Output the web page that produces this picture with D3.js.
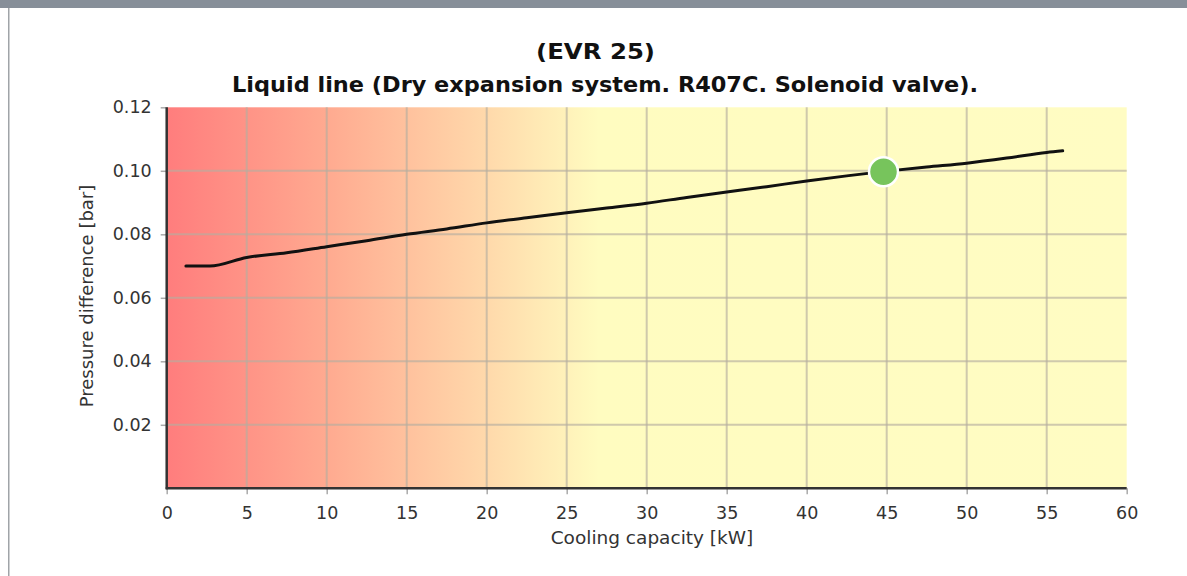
<!DOCTYPE html>
<html>
<head>
<meta charset="utf-8">
<script src="https://cdn.jsdelivr.net/npm/d3@7"></script>
<style>
  html, body { margin: 0; padding: 0; background: #fff; }
  svg { display: block; }
</style>
</head>
<body>
<svg id="chart" width="1187" height="576"></svg>
<script>
const titleLines = ["(EVR 25)", "Liquid line (Dry expansion system. R407C. Solenoid valve)."];
const xLabel = "Cooling capacity [kW]";
const yLabel = "Pressure difference [bar]";
const xTicks = [0, 5, 10, 15, 20, 25, 30, 35, 40, 45, 50, 55, 60];
const yTicks = [0.02, 0.04, 0.06, 0.08, 0.10, 0.12];
const capacity = [1.2, 2.7, 5, 7.5, 10, 12.5, 15, 17.5, 20, 22.5, 25, 27.5, 30, 32.5, 35, 37.5, 40, 42.5, 45, 47.5, 50, 52.5, 55, 56];
const pressure = [0.0700, 0.0700, 0.0727, 0.0742, 0.0761, 0.0780, 0.0800, 0.0817, 0.0836, 0.0852, 0.0868, 0.0883, 0.0898, 0.0916, 0.0933, 0.0950, 0.0968, 0.0984, 0.0999, 0.1012, 0.1024, 0.1040, 0.1058, 0.1063];
const operatingPoint = [44.8, 0.0997];

const svg = d3.select("#chart");
const W = 1187, H = 576;
const m = { left: 166.7, right: 1126.7, top: 107.3, bottom: 488.3 };

// frame
svg.append("rect").attr("x", 0).attr("y", 0).attr("width", W).attr("height", 8).attr("fill", "#878f99");
svg.append("rect").attr("x", 8).attr("y", 8).attr("width", 1.5).attr("height", H - 8).attr("fill", "#a0a4a8");

const x = d3.scaleLinear().domain([0, 60]).range([m.left, m.right]);
const y = d3.scaleLinear().domain([0, 0.12]).range([m.bottom, m.top]);

// gradient background
const defs = svg.append("defs");
const grad = defs.append("linearGradient").attr("id", "bg").attr("gradientUnits", "userSpaceOnUse")
  .attr("x1", x(0)).attr("x2", x(60)).attr("y1", 0).attr("y2", 0);
grad.append("stop").attr("offset", 0).attr("stop-color", "#ff7d7d");
grad.append("stop").attr("offset", 10 / 60).attr("stop-color", "#ffaa90");
grad.append("stop").attr("offset", 20 / 60).attr("stop-color", "#ffd9ab");
grad.append("stop").attr("offset", 27 / 60).attr("stop-color", "#fffcc0");
grad.append("stop").attr("offset", 1).attr("stop-color", "#fffcc3");
svg.append("rect").attr("x", x(0)).attr("y", y(0.12)).attr("width", x(60) - x(0)).attr("height", y(0) - y(0.12))
  .attr("fill", "url(#bg)");

// grid
const grid = svg.append("g");
grid.selectAll(".vg").data(xTicks.filter(d => d > 0 && d < 60)).enter().append("line")
  .attr("x1", d => x(d)).attr("x2", d => x(d)).attr("y1", y(0.12)).attr("y2", y(0))
  .attr("stroke", "#b5ada0").attr("stroke-opacity", 0.65).attr("stroke-width", 2);
grid.selectAll(".hg").data(yTicks.filter(d => d < 0.12)).enter().append("line")
  .attr("x1", x(0)).attr("x2", x(60)).attr("y1", d => y(d)).attr("y2", d => y(d))
  .attr("stroke", "#b5ada0").attr("stroke-opacity", 0.65).attr("stroke-width", 2);

// axes
const fontFam = "'DejaVu Sans', Verdana, sans-serif";
const xAxis = svg.append("g").attr("transform", `translate(0,${y(0)})`)
  .call(d3.axisBottom(x).tickValues(xTicks).tickSize(6).tickPadding(12).tickFormat(d3.format("d")));
const yAxis = svg.append("g").attr("transform", `translate(${x(0)},0)`)
  .call(d3.axisLeft(y).tickValues(yTicks).tickSize(6).tickPadding(9).tickFormat(d3.format(".2f")));
[xAxis, yAxis].forEach(a => {
  a.select(".domain").remove();
  a.selectAll(".tick line").attr("stroke", "#aaa").attr("stroke-width", 1.5);
  a.selectAll(".tick text").attr("fill", "#333").style("font-family", fontFam).style("font-size", "17.5px");
});
svg.append("line").attr("x1", x(0)).attr("x2", x(0)).attr("y1", y(0.12)).attr("y2", y(0) + 1)
  .attr("stroke", "#333").attr("stroke-width", 2.5);
svg.append("line").attr("x1", x(0) - 1).attr("x2", x(60)).attr("y1", y(0)).attr("y2", y(0))
  .attr("stroke", "#333").attr("stroke-width", 2.5);

// line
const pts = capacity.map((c, i) => [c, pressure[i]]);
svg.append("path").datum(pts)
  .attr("d", d3.line().x(d => x(d[0])).y(d => y(d[1])).curve(d3.curveMonotoneX))
  .attr("fill", "none").attr("stroke", "#111").attr("stroke-width", 3).attr("stroke-linecap", "round");

// operating point
svg.append("circle").attr("cx", x(operatingPoint[0])).attr("cy", y(operatingPoint[1])).attr("r", 14.5)
  .attr("fill", "#77c45c").attr("stroke", "#fff").attr("stroke-width", 2.5);

// titles
svg.append("text").attr("x", 595.5).attr("y", 59).attr("text-anchor", "middle")
  .style("font-family", fontFam).style("font-weight", "bold").style("font-size", "21px").attr("fill", "#111")
  .attr("textLength", 119).attr("lengthAdjust", "spacingAndGlyphs")
  .text(titleLines[0]);
svg.append("text").attr("x", 605).attr("y", 92).attr("text-anchor", "middle")
  .style("font-family", fontFam).style("font-weight", "bold").style("font-size", "21px").attr("fill", "#111")
  .attr("textLength", 746).attr("lengthAdjust", "spacingAndGlyphs")
  .text(titleLines[1]);

// axis labels
svg.append("text").attr("x", 652).attr("y", 544).attr("text-anchor", "middle")
  .style("font-family", fontFam).style("font-size", "18.5px").attr("fill", "#333").text(xLabel);
svg.append("text").attr("transform", `translate(93,296) rotate(-90)`).attr("text-anchor", "middle")
  .style("font-family", fontFam).style("font-size", "18px").attr("fill", "#333").text(yLabel);
</script>
</body>
</html>
